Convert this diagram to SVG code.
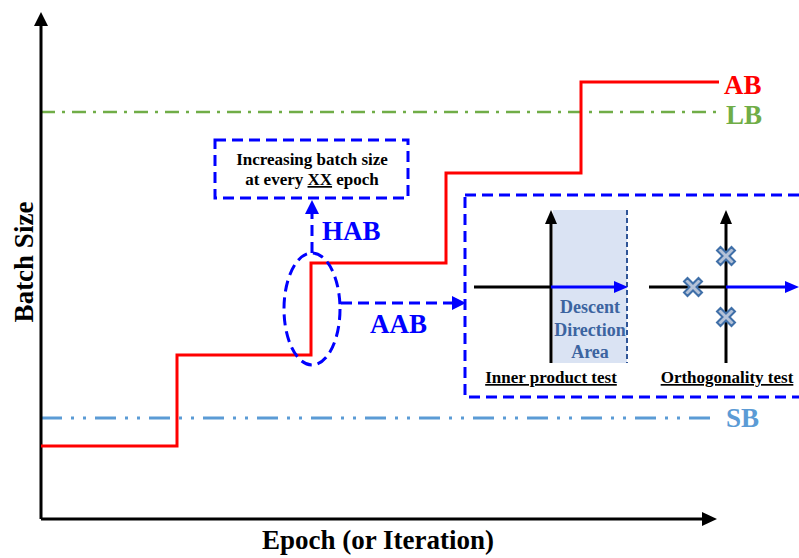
<svg xmlns="http://www.w3.org/2000/svg" width="799" height="558" viewBox="0 0 799 558">
<style>
text{font-family:"Liberation Serif","Times New Roman",serif;font-weight:bold}
.lbl{font-size:27px}
.axis{stroke:#000;stroke-width:3;fill:none}
.bdash{stroke:#0000FF;stroke-width:3;fill:none;stroke-dasharray:11 6}
.red{stroke:#FF0000;stroke-width:3;fill:none}
.cross{fill:#B4C2D8;stroke:#3F6FA8;stroke-width:2}
</style>
<rect width="799" height="558" fill="#fff"/>
<g id="reference-lines">
<line x1="41" y1="112" x2="717" y2="112" stroke="#70AD47" stroke-width="2.5" stroke-dasharray="14 7 3 7"/>
<line x1="41" y1="418" x2="717" y2="418" stroke="#5B9BD5" stroke-width="3" stroke-dasharray="21 9 3 9 3 9"/>
</g>
<g id="axes">
<line class="axis" x1="41" y1="519" x2="41" y2="24"/>
<polygon points="41,12 34,26 48,26" fill="#000"/>
<line class="axis" x1="41" y1="519" x2="704" y2="519"/>
<polygon points="717,519 702,512 702,526" fill="#000"/>
<text class="lbl" x="378" y="549" text-anchor="middle" font-size="28">Epoch (or Iteration)</text>
<text class="lbl" transform="translate(33,262) rotate(-90)" text-anchor="middle">Batch Size</text>
</g>
<g id="ab-curve">
<polyline class="red" points="41,446 177,446 177,355 311,355 311,263 446,263 446,173 581,173 581,82 719,82"/>
</g>
<g id="labels">
<text class="lbl" x="724" y="94" fill="#FF0000">AB</text>
<text class="lbl" x="726" y="124" fill="#70AD47">LB</text>
<text class="lbl" x="726" y="427" fill="#5B9BD5">SB</text>
</g>
<g id="hab-box">
<rect class="bdash" x="215" y="140" width="193" height="58"/>
<text x="312" y="165" font-size="17" text-anchor="middle">Increasing batch size</text>
<text x="312" y="185" font-size="17" text-anchor="middle">at every <tspan text-decoration="underline">XX</tspan> epoch</text>
</g>
<g id="ellipse">
<ellipse class="bdash" cx="312" cy="309" rx="28" ry="56"/>
</g>
<g id="connectors">
<line class="bdash" x1="312" y1="253" x2="312" y2="212"/>
<polygon points="312,200 305,214 319,214" fill="#0000FF"/>
<text class="lbl" x="322" y="240" fill="#0000FF">HAB</text>
<line class="bdash" x1="341" y1="303" x2="452" y2="303"/>
<polygon points="466,303 452,296 452,310" fill="#0000FF"/>
<text class="lbl" x="370" y="333" fill="#0000FF">AAB</text>
</g>
<g id="test-box">
<rect class="bdash" x="465" y="195" width="340" height="202"/>
</g>
<g id="inner-product-test">
<rect x="553" y="210" width="74" height="153" fill="#DAE3F3"/>
<line x1="627" y1="210" x2="627" y2="363" stroke="#2F5597" stroke-width="2" stroke-dasharray="5 3"/>
<line class="axis" x1="551" y1="363" x2="551" y2="222"/>
<polygon points="551,210 545,224 557,224" fill="#000"/>
<line class="axis" x1="474" y1="287" x2="551" y2="287"/>
<line x1="551" y1="287" x2="615" y2="287" stroke="#0000FF" stroke-width="3"/>
<polygon points="628,287 614,281 614,293" fill="#0000FF"/>
<g fill="#3C64A0" font-size="18" text-anchor="middle">
<text x="590" y="313">Descent</text>
<text x="590" y="336">Direction</text>
<text x="590" y="358">Area</text>
</g>
<text x="551" y="383" font-size="17" text-anchor="middle" text-decoration="underline">Inner product test</text>
</g>
<g id="orthogonality-test">
<line class="axis" x1="726" y1="363" x2="726" y2="222"/>
<polygon points="726,210 720,224 732,224" fill="#000"/>
<line class="axis" x1="649" y1="287" x2="726" y2="287"/>
<line x1="726" y1="287" x2="786" y2="287" stroke="#0000FF" stroke-width="3"/>
<polygon points="799,287 785,281 785,293" fill="#0000FF"/>
<defs>
<path id="x" d="M-9,-5.5 L-5.5,-9 L0,-3.5 L5.5,-9 L9,-5.5 L3.5,0 L9,5.5 L5.5,9 L0,3.5 L-5.5,9 L-9,5.5 L-3.5,0 Z"/>
</defs>
<use href="#x" class="cross" x="726" y="256"/>
<use href="#x" class="cross" x="693" y="287"/>
<use href="#x" class="cross" x="726" y="317"/>
<text x="727" y="383" font-size="17" text-anchor="middle" text-decoration="underline">Orthogonality test</text>
</g>
</svg>
